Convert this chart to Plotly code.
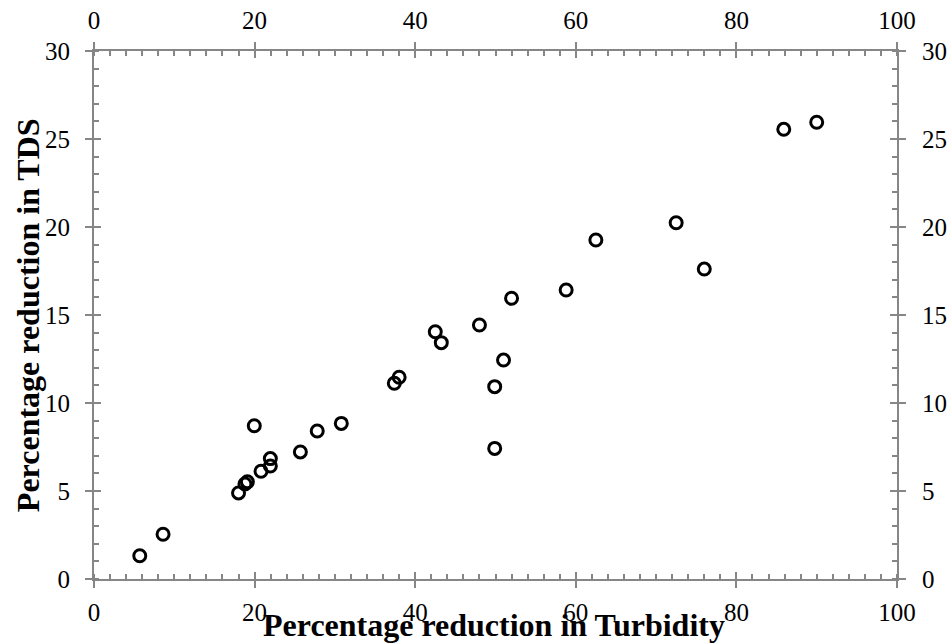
import plotly.graph_objects as go

# Data
turbidity = [5.7, 8.6, 18.0, 18.8, 19.1, 20.8, 21.96, 21.96, 19.96, 25.7, 27.8, 30.8,
             37.4, 38.0, 42.5, 43.25, 48.0, 52.0, 58.8, 51.0, 49.9, 49.9,
             62.5, 72.5, 76.0, 85.9, 90.0]
tds = [1.32, 2.54, 4.89, 5.4, 5.52, 6.12, 6.42, 6.84, 8.71, 7.22, 8.41, 8.84,
       11.12, 11.46, 14.05, 13.43, 14.43, 15.95, 16.42, 12.44, 10.93, 7.42,
       19.26, 20.24, 17.61, 25.55, 25.95]

x_ticks = [0, 20, 40, 60, 80, 100]
y_ticks = [0, 5, 10, 15, 20, 25, 30]
x_title = "Percentage reduction in Turbidity"
y_title = "Percentage reduction in TDS"

GRAY = "#868686"
FONT = "Liberation Serif"

fig = go.Figure()
fig.add_trace(go.Scatter(
    x=turbidity, y=tds, mode="markers",
    marker=dict(symbol="circle-open", size=12, color="black",
                line=dict(width=3, color="black")),
    showlegend=False, xaxis="x", yaxis="y"))

tickfont = dict(family=FONT, size=25, color="black")

common_x = dict(range=[0, 100], showgrid=False, zeroline=False, fixedrange=True, automargin=False)
common_y = dict(range=[0, 30], showgrid=False, zeroline=False, fixedrange=True, automargin=False)

fig.update_layout(
    width=951, height=643,
    margin=dict(l=94, r=54, t=51, b=64),
    paper_bgcolor="white", plot_bgcolor="white",
    xaxis=dict(**common_x, side="bottom", anchor="y",
               tickmode="array", tickvals=x_ticks, ticktext=[str(v) for v in x_ticks],
               ticks="outside", ticklen=7, tickwidth=2, tickcolor=GRAY,
               showline=True, linecolor=GRAY, linewidth=2, mirror="allticks",
               tickfont=tickfont, ticklabelstandoff=3,
               minor=dict(ticks="inside", ticklen=5, dtick=2, tick0=0,
                          tickwidth=1.5, tickcolor=GRAY, showgrid=False)),
    xaxis2=dict(**common_x, side="top", overlaying="x", anchor="y",
                tickmode="array", tickvals=x_ticks, ticktext=[str(v) for v in x_ticks],
                ticks="", showline=False, tickfont=tickfont, ticklabelstandoff=16),
    xaxis3=dict(**common_x, side="bottom", overlaying="x", anchor="y",
                tickmode="array", tickvals=x_ticks, ticks="inside", ticklen=7,
                tickwidth=2, tickcolor=GRAY, mirror="allticks",
                showline=False, showticklabels=False),
    yaxis=dict(**common_y, side="left", anchor="x",
               tickmode="array", tickvals=y_ticks, ticktext=[str(v) for v in y_ticks],
               ticks="outside", ticklen=7, tickwidth=2, tickcolor=GRAY,
               showline=True, linecolor=GRAY, linewidth=2, mirror="allticks",
               tickfont=tickfont, ticklabelstandoff=10,
               minor=dict(ticks="inside", ticklen=5, dtick=1, tick0=0,
                          tickwidth=1.5, tickcolor=GRAY, showgrid=False)),
    yaxis2=dict(**common_y, side="right", overlaying="y", anchor="x",
                tickmode="array", tickvals=y_ticks, ticktext=[str(v) for v in y_ticks],
                ticks="", showline=False, tickfont=tickfont, ticklabelstandoff=24),
    yaxis3=dict(**common_y, side="left", overlaying="y", anchor="x",
                tickmode="array", tickvals=y_ticks, ticks="inside", ticklen=7,
                tickwidth=2, tickcolor=GRAY, mirror="allticks",
                showline=False, showticklabels=False),
    annotations=[
        dict(text="<b>" + x_title + "</b>", xref="paper", yref="paper",
             x=0.498, y=-0.087, xanchor="center", yanchor="middle", showarrow=False,
             font=dict(family=FONT, size=32, color="black")),
        dict(text="<b>" + y_title + "</b>", xref="paper", yref="paper",
             x=-0.082, y=0.5, xanchor="center", yanchor="middle", showarrow=False,
             textangle=-90, font=dict(family=FONT, size=32, color="black")),
    ],
)

# dummy traces so overlay axes get drawn
fig.add_trace(go.Scatter(x=[None], y=[None], xaxis="x2", yaxis="y2", showlegend=False, hoverinfo="skip"))
fig.add_trace(go.Scatter(x=[None], y=[None], xaxis="x3", yaxis="y3", showlegend=False, hoverinfo="skip"))

fig.write_html("out.html")
